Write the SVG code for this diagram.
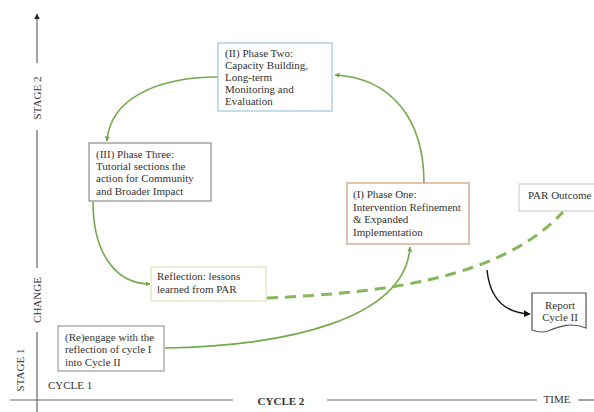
<svg xmlns="http://www.w3.org/2000/svg" width="594" height="412" viewBox="0 0 594 412" font-family="'Liberation Serif', 'Times New Roman', 'DejaVu Serif', serif">
<defs>
<marker id="ag" viewBox="0 0 10 10" refX="9" refY="5" markerWidth="5" markerHeight="5" orient="auto" markerUnits="userSpaceOnUse"><path d="M0,0 L10,5 L0,10 z" fill="#6fa648"/></marker>
<marker id="ab" viewBox="0 0 10 10" refX="9" refY="5" markerWidth="7" markerHeight="7" orient="auto" markerUnits="userSpaceOnUse"><path d="M0,0 L10,5 L0,10 z" fill="#111"/></marker>
<marker id="ak" viewBox="0 0 10 10" refX="9" refY="5" markerWidth="6" markerHeight="6" orient="auto" markerUnits="userSpaceOnUse"><path d="M0,0 L10,5 L0,10 z" fill="#222"/></marker>
</defs>
<style>
text{font-family:'Liberation Serif','Times New Roman','DejaVu Serif',serif;fill:#333;font-size:11px}
.box{fill:#fff;stroke-width:1.2}
.axis{stroke:#666;stroke-width:1.2;fill:none}
.g{fill:none;stroke:#73aa4c;stroke-width:1.6}
.dash{fill:none;stroke:#84b85a;stroke-width:3;stroke-dasharray:11 7}
</style>
<rect width="594" height="412" fill="#fff"/>

<g id="axes">
<line class="axis" x1="37" y1="63" x2="37" y2="14" marker-end="url(#ak)"/>
<line class="axis" x1="37" y1="130" x2="37" y2="268"/>
<line class="axis" x1="37" y1="332" x2="37" y2="412"/>
<line class="axis" x1="10" y1="400" x2="233" y2="400"/>
<line class="axis" x1="327" y1="400" x2="537" y2="400"/>
<line class="axis" x1="578" y1="400" x2="594" y2="400"/>
<text transform="translate(41,98) rotate(-90)" text-anchor="middle">STAGE 2</text>
<text transform="translate(41,300) rotate(-90)" text-anchor="middle">CHANGE</text>
<text transform="translate(24,370) rotate(-90)" text-anchor="middle" font-size="10.5">STAGE 1</text>
<text x="48" y="389" font-size="10.5">CYCLE 1</text>
<text x="281" y="405" text-anchor="middle" font-size="14.5" font-weight="bold" fill="#222">CYCLE 2</text>
<text x="557" y="403" text-anchor="middle" font-size="10">TIME</text>
</g>

<g id="connectors">
<path class="g" d="M218,77 C155,77 110,100 107,141" marker-end="url(#ag)"/>
<path class="g" d="M424,183 C424,120 392,78 335,75" marker-end="url(#ag)"/>
<path class="g" d="M93,202 C93,252 115,284 150,284" marker-end="url(#ag)"/>
<path class="g" d="M165,348 C285,346 405,320 410,247" marker-end="url(#ag)"/>
<path class="dash" d="M267,298 C380,293 500,280 563,212"/>
<path fill="none" stroke="#111" stroke-width="1.4" d="M487,270 C490,300 505,313 530,314" marker-end="url(#ab)"/>
</g>

<g id="phase-two">
<rect class="box" x="218" y="43" width="114" height="68" stroke="#9cc6da"/>
<text x="225" y="57">(II) Phase Two:</text>
<text x="225" y="69">Capacity Building,</text>
<text x="225" y="81">Long-term</text>
<text x="225" y="93">Monitoring and</text>
<text x="225" y="105">Evaluation</text>
</g>

<g id="phase-three">
<rect class="box" x="89" y="143" width="122" height="58" stroke="#8c8c8c"/>
<text x="96" y="158">(III) Phase Three:</text>
<text x="96" y="170">Tutorial sections the</text>
<text x="96" y="182">action for Community</text>
<text x="96" y="195">and Broader Impact</text>
</g>

<g id="reflection">
<rect class="box" x="151" y="267" width="115" height="34" stroke="#e0e2b4"/>
<text x="157" y="280">Reflection: lessons</text>
<text x="157" y="293">learned from PAR</text>
</g>

<g id="reengage">
<rect class="box" x="58" y="326" width="106" height="45" stroke="#9a9a9a"/>
<text x="65" y="341">(Re)engage with the</text>
<text x="65" y="353">reflection of cycle I</text>
<text x="65" y="366">into Cycle II</text>
</g>

<g id="phase-one">
<rect class="box" x="347" y="183" width="122" height="61" stroke="#c99d78"/>
<text x="353" y="198">(I) Phase One:</text>
<text x="353" y="211">Intervention Refinement</text>
<text x="353" y="223">&amp; Expanded</text>
<text x="353" y="236">Implementation</text>
</g>

<g id="par-outcome">
<rect class="box" x="519" y="184" width="80" height="27" stroke="#cfcfcf"/>
<text x="528" y="199">PAR Outcome</text>
</g>

<g id="report">
<path d="M532,293 L586,293 L586,328 C572,322 560,326 548,331 C542,333 537,332 532,330 Z" fill="#fff" stroke="#555" stroke-width="1.2"/>
<text x="560" y="309" text-anchor="middle">Report</text>
<text x="560" y="321" text-anchor="middle">Cycle II</text>
</g>
</svg>
